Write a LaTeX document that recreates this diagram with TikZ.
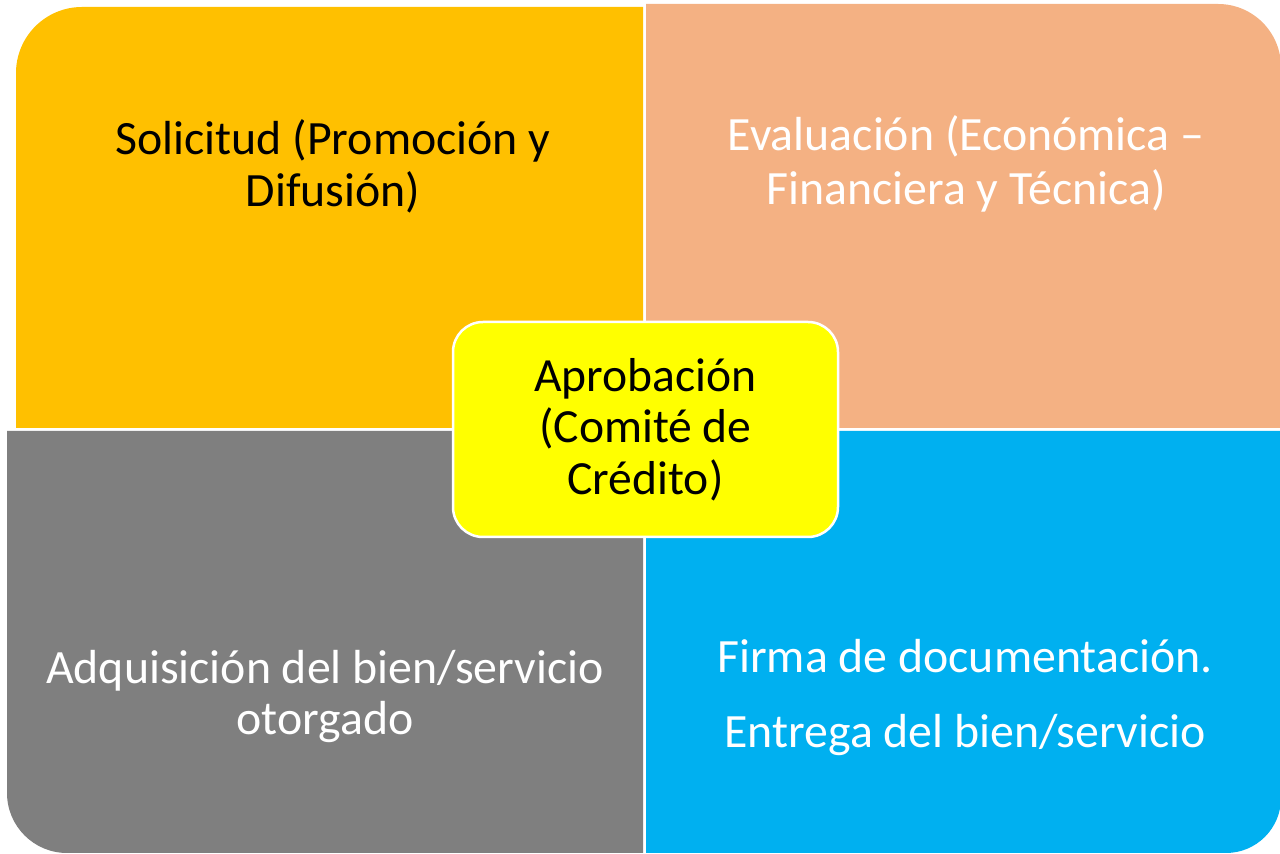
\documentclass[tikz,border=0pt]{standalone}
\usepackage{fontspec}
\setmainfont{Carlito}
\definecolor{qorange}{HTML}{FFC000}
\definecolor{qpeach}{HTML}{F4B183}
\definecolor{qgray}{HTML}{7F7F7F}
\definecolor{qblue}{HTML}{00B0F0}
\definecolor{qyellow}{HTML}{FFFF00}
\tikzset{
  qtext/.style={inner sep=0pt, anchor=base, align=center, font=\fontsize{47.8}{52}\selectfont},
  centerbox/.style={fill=qyellow, draw=white, line width=2.5pt, rounded corners=30pt,
    minimum width=385pt, minimum height=215pt, inner sep=0pt, align=center,
    font=\fontsize{47.6}{51.5}\selectfont}
}
\begin{document}
\begin{tikzpicture}[x=1pt,y=1pt]
\useasboundingbox (0,0) rectangle (1280,854);
% quadrants
\fill[qorange] (643,426) -- (16,426) -- (16,781) arc[start angle=180, end angle=90, radius=66] -- (643,847) -- cycle;
\fill[qpeach] (646,426) -- (646,850) -- (1218,850) arc[start angle=90, end angle=0, radius=63] -- (1281,426) -- cycle;
\fill[qgray] (643,423) -- (7,423) -- (7,61) arc[start angle=180, end angle=270, radius=60] -- (643,1) -- cycle;
\fill[qblue] (646,423) -- (1281,423) -- (1281,56) arc[start angle=0, end angle=-90, radius=55] -- (646,1) -- cycle;
% texts (base anchor = baseline of the last line)
\node[qtext, text=black] (sol) at (333,647) {Solicitud (Promoción y\\Difusión)};
\node[qtext, text=white, font=\fontsize{47.8}{54}\selectfont] (eva) at (966,649) {Evaluación (Económica –\\Financiera y Técnica)};
\node[qtext, text=white, font=\fontsize{47.8}{51}\selectfont] (adq) at (325,119) {Adquisición del bien/servicio\\otorgado};
\node[qtext, text=white] (fir) at (965,106) {Firma de documentación.\\[23pt]Entrega del bien/servicio};
\node[centerbox] (apr) at (645.5,424.5) {Aprobación\\(Comité de\\Crédito)};
\end{tikzpicture}
\end{document}
